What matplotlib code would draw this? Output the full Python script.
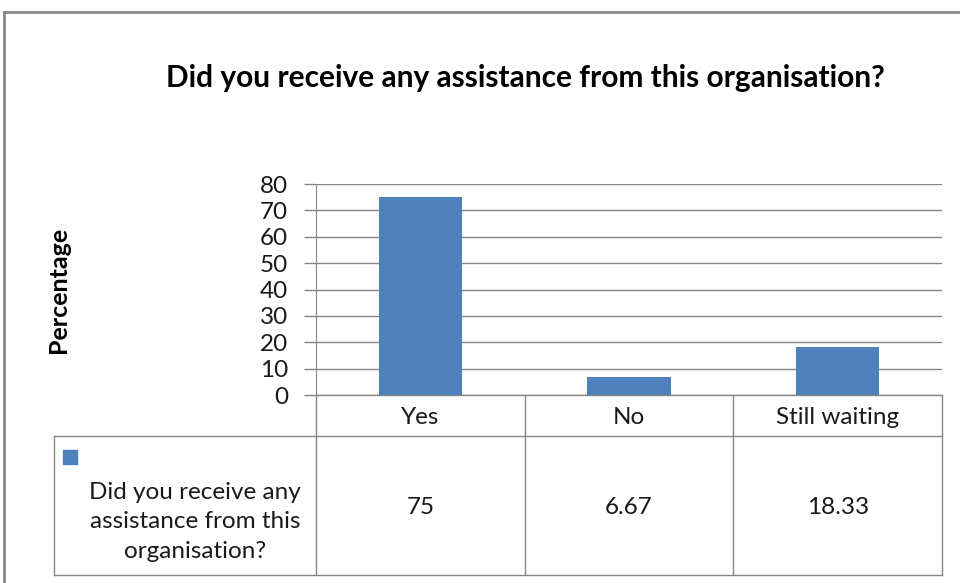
import matplotlib.pyplot as plt
from matplotlib.patches import Rectangle
from matplotlib.lines import Line2D

plt.rcParams['font.family'] = ['Lato', 'DejaVu Sans']

# Survey answers and their percentages
categories = ['Yes', 'No', 'Still waiting']
values = [75, 6.67, 18.33]
value_labels = ['75', '6.67', '18.33']
series_name = 'Did you receive any\nassistance from this\norganisation?'
title = 'Did you receive any assistance from this organisation?'

bar_color = '#4F81BD'
line_color = '#868686'
text_color = '#1a1a1a'

W, H = 960, 583
fig = plt.figure(figsize=(W / 100, H / 100), dpi=100)

# plot area in pixels (left, top, right, bottom)
L, T, R, B = 316, 184, 942, 395
ax = fig.add_axes([L / W, 1 - B / H, (R - L) / W, (B - T) / H])

x = range(len(categories))
ax.bar(x, values, width=0.4, color=bar_color, zorder=3)
ax.set_xlim(-0.5, len(categories) - 0.5)
ax.set_ylim(0, 80)
ax.set_yticks(range(0, 81, 10))
ax.yaxis.grid(True, color=line_color, linewidth=1)
ax.set_axisbelow(True)
ax.tick_params(axis='y', length=9, width=1, color=line_color, labelsize=17.5,
               labelcolor=text_color, pad=11)
ax.set_xticks([])
for side in ['top', 'right', 'bottom']:
    ax.spines[side].set_visible(False)
ax.spines['left'].set_color(line_color)

ax.set_ylabel('Percentage', fontsize=18, fontweight='bold', color='black')
ax.yaxis.set_label_coords((70 - L) / (R - L), 0.5)

fig.text(525 / W, 1 - 78 / H, title, ha='center', va='center',
         fontsize=21.5, fontweight='bold', color='black')

# data table below the plot area
tr = ax.get_xaxis_transform()
ph = B - T
y_hdr = -(436 - B) / ph
y_bot = -(575 - B) / ph
cw = (R - L) / len(categories)
x_left = -0.5 - (L - 54) / cw
n = len(categories)

tbl = dict(color=line_color, linewidth=1, transform=tr, clip_on=False)
ax.add_line(Line2D([-0.5, n - 0.5], [0, 0], **tbl))
ax.add_line(Line2D([x_left, n - 0.5], [y_hdr, y_hdr], **tbl))
ax.add_line(Line2D([x_left, n - 0.5], [y_bot, y_bot], **tbl))
ax.add_line(Line2D([x_left, x_left], [y_hdr, y_bot], **tbl))
for i in range(n + 1):
    ax.add_line(Line2D([i - 0.5, i - 0.5], [0, y_bot], **tbl))

for i, (cat, lab) in enumerate(zip(categories, value_labels)):
    ax.text(i, y_hdr / 2 - 0.01, cat, transform=tr, ha='center', va='center',
            fontsize=17.5, color=text_color)
    ax.text(i, (y_hdr + y_bot) / 2 - 0.01, lab, transform=tr, ha='center',
            va='center', fontsize=17.5, color=text_color)

# legend key and series name in the first column
fig.patches.append(Rectangle((63 / W, 1 - 464 / H), 14 / W, 14 / H,
                             transform=fig.transFigure, color=bar_color))
fig.text(195 / W, 1 - 522 / H, series_name, ha='center', va='center',
         fontsize=17.5, color=text_color, linespacing=1.5)

# chart frame
fig.add_artist(Line2D([4 / W, 4 / W], [0, 1 - 12 / H], color='#888888',
                      linewidth=2, transform=fig.transFigure))
fig.add_artist(Line2D([4 / W, 1], [1 - 12 / H, 1 - 12 / H], color='#888888',
                      linewidth=2, transform=fig.transFigure))

fig.savefig('out.png', dpi=100)
